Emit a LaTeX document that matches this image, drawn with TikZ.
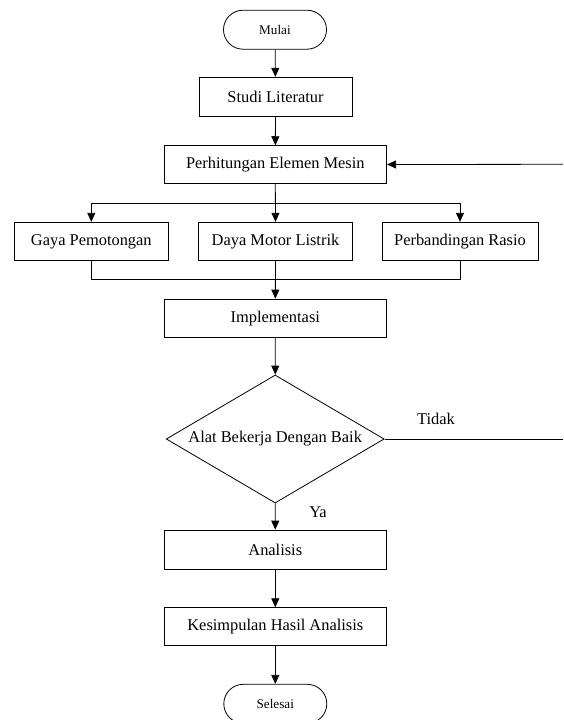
\documentclass[tikz,border=0pt]{standalone}
\usepackage{fontspec}
\setmainfont{Liberation Serif}
\usetikzlibrary{arrows.meta,shapes.geometric}
\begin{document}
\begin{tikzpicture}[x=1pt,y=-1pt,line width=0.8pt,
  arr/.style={-{Triangle[length=9pt,width=8pt]}},
  procbox/.style={draw,rectangle,inner sep=0pt,font=\fontsize{16.4}{20}\selectfont},
  termbox/.style={draw,rectangle,rounded corners=19.5pt,inner sep=0pt,minimum width=103pt,minimum height=39pt,font=\fontsize{13.2}{16}\selectfont},
  decbox/.style={draw,diamond,aspect=1.7,inner sep=0pt,minimum width=218pt,minimum height=128pt,font=\fontsize{16.4}{20}\selectfont},
  lbl/.style={inner sep=0pt,font=\fontsize{16.4}{20}\selectfont}]
\useasboundingbox (0,0) rectangle (563,720);
\clip (0,0) rectangle (563,720);
\node[termbox] (mulai) at (275,29.7) {Mulai};
\node[procbox,minimum width=153pt,minimum height=39.5pt] (studi) at (275.5,97) {Studi Literatur};
\node[procbox,minimum width=222.7pt,minimum height=37.7pt] (hitung) at (275.3,164.5) {Perhitungan Elemen Mesin};
\node[procbox,minimum width=154.5pt,minimum height=38.5pt] (gaya) at (91.3,241.5) {Gaya Pemotongan};
\node[procbox,minimum width=154.7pt,minimum height=38.5pt] (daya) at (275.5,241.5) {Daya Motor Listrik};
\node[procbox,minimum width=156pt,minimum height=38.5pt] (rasio) at (460,241.5) {Perbandingan Rasio};
\node[procbox,minimum width=222.7pt,minimum height=38.3pt] (impl) at (275.3,318.2) {Implementasi};
\node[decbox] (dec) at (275.2,439) {Alat Bekerja Dengan Baik};
\node[procbox,minimum width=222.7pt,minimum height=39pt] (analisis) at (275.3,549.5) {Analisis};
\node[procbox,minimum width=222.7pt,minimum height=38pt] (kesimp) at (275.3,626.7) {Kesimpulan Hasil Analisis};
\node[termbox] (selesai) at (275.3,703.8) {Selesai};
\node[lbl] (tidak) at (436,419) {Tidak};
\node[lbl] (ya) at (318,512) {Ya};
\coordinate (br) at (275.4,203.3);
\coordinate (mg) at (275.4,279.3);
\coordinate (fbA) at (563,439);
\coordinate (fbB) at (563,164.3);
\draw[arr] (mulai) -- (studi);
\draw[arr] (studi) -- (hitung);
\draw[arr] (hitung.south) -- (daya.north);
\draw[arr] (br) -| (gaya.north);
\draw[arr] (br) -| (rasio.north);
\draw (gaya.south) |- (mg) -| (rasio.south);
\draw[arr] (daya.south) -- (impl.north);
\draw[arr] (impl) -- (dec);
\draw[arr] (dec) -- (analisis);
\draw[arr] (analisis) -- (kesimp);
\draw[arr] (kesimp) -- (selesai);
\draw (dec.east) -- (fbA);
\draw[arr] (fbB) -- (hitung.east);
\end{tikzpicture}
\end{document}
